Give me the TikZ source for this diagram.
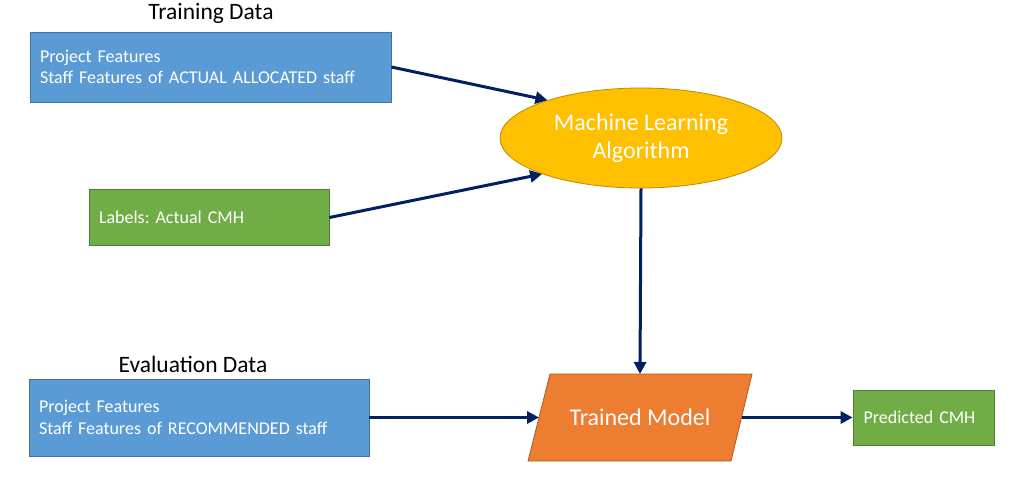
\documentclass[tikz,border=0pt]{standalone}
\usepackage{fontspec}
\setmainfont{Carlito}
\frenchspacing
\usetikzlibrary{shapes.geometric,arrows.meta}
\definecolor{boxblue}{HTML}{5B9BD5}
\definecolor{boxblueline}{HTML}{41719C}
\definecolor{boxgreen}{HTML}{70AD47}
\definecolor{boxgreenline}{HTML}{507E32}
\definecolor{boxorange}{HTML}{ED7D31}
\definecolor{boxorangeline}{HTML}{AE5A21}
\definecolor{boxgold}{HTML}{FFC000}
\definecolor{boxgoldline}{HTML}{BC8C00}
\definecolor{arrownavy}{HTML}{002060}
\tikzset{
  databox/.style={draw=boxblueline, fill=boxblue, text=white, line width=0.8pt,
    inner xsep=10pt, inner ysep=0pt, align=left,
    font=\fontsize{18}{21.5}\selectfont},
  greenbox/.style={draw=boxgreenline, fill=boxgreen, text=white, line width=0.8pt,
    inner xsep=10pt, inner ysep=0pt, align=left},
  titlelabel/.style={text=black, font=\fontsize{23.5}{28}\selectfont, inner sep=0pt},
  flowarrow/.style={draw=arrownavy, line width=3pt, -{Triangle[length=12pt,width=12pt]}},
}
\begin{document}
\begin{tikzpicture}[x=1pt,y=-1pt]
\useasboundingbox (0,0) rectangle (1024,484);
% labels
\node[titlelabel] (tdlabel) at (211,13) {Training Data};
\node[titlelabel] (edlabel) at (193,364) {Evaluation Data};
% boxes
\node[databox, minimum width=361pt, minimum height=70pt, text width=341pt] (train) at (210.5,67)
  {Project Features\\Staff Features of ACTUAL ALLOCATED staff};
\node[greenbox, minimum width=240pt, minimum height=56pt, text width=220pt,
  font=\fontsize{18}{21.5}\selectfont] (labels) at (209,217.5) {Labels: Actual CMH};
\node[databox, minimum width=340pt, minimum height=77pt, text width=320pt] (eval) at (199,417.5)
  {Project Features\\Staff Features of RECOMMENDED staff};
\node[draw=boxgoldline, fill=boxgold, text=white, line width=0.8pt, ellipse,
  minimum width=282pt, minimum height=100pt, inner sep=0pt, align=center,
  font=\fontsize{24}{28.5}\selectfont] (ml) at (641,138) {Machine Learning\\Algorithm};
% trained model parallelogram
\coordinate (tmtl) at (550,374);
\coordinate (tmtr) at (752,374);
\coordinate (tmbr) at (731,461);
\coordinate (tmbl) at (528,461);
\coordinate (tmleft) at (539,417.5);
\coordinate (tmright) at (741.5,417.5);
\coordinate (tmtop) at (640,374);
\filldraw[draw=boxorangeline, fill=boxorange, line width=0.8pt]
  (tmtl) -- (tmtr) -- (tmbr) -- (tmbl) -- cycle;
\node[text=white, inner sep=0pt, font=\fontsize{24}{28}\selectfont] (tm) at (640,417.5) {Trained Model};
\node[greenbox, minimum width=141pt, minimum height=55pt, text width=120pt,
  inner xsep=10.5pt,
  font=\fontsize{18}{21.5}\selectfont] (pred) at (923.5,417.5) {Predicted CMH};
% arrows
\draw[flowarrow] (train.east) -- (ml.158);
\draw[flowarrow] (labels.east) -- (ml.200);
\draw[flowarrow] (ml.south) -- (tmtop);
\draw[flowarrow] (eval.east) -- (tmleft);
\draw[flowarrow] (tmright) -- (pred.west);
\end{tikzpicture}
\end{document}
